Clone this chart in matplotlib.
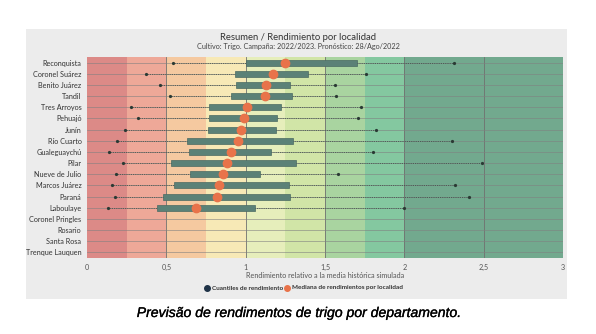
import matplotlib
matplotlib.use('Agg')
import matplotlib.pyplot as plt
import matplotlib.patheffects as pe
from matplotlib.patches import Rectangle

localidades = ['Reconquista', 'Coronel Suárez', 'Benito Juárez', 'Tandil', 'Tres Arroyos',
               'Pehuajó', 'Junín', 'Río Cuarto', 'Gualeguaychú', 'Pilar', 'Nueve de Julio',
               'Marcos Juárez', 'Paraná', 'Laboulaye', 'Coronel Pringles', 'Rosario',
               'Santa Rosa', 'Trenque Lauquen']

# min, q1, median, q3, max (only the first 14 have data)
minimos = [0.54, 0.37, 0.46, 0.525, 0.28, 0.32, 0.24, 0.19, 0.14, 0.23, 0.185, 0.16, 0.175, 0.13]
q1 = [1.00, 0.93, 0.94, 0.905, 0.77, 0.77, 0.76, 0.63, 0.64, 0.53, 0.65, 0.55, 0.48, 0.44]
medianas = [1.25, 1.17, 1.13, 1.12, 1.01, 0.99, 0.97, 0.95, 0.91, 0.88, 0.86, 0.83, 0.82, 0.69]
q3 = [1.70, 1.39, 1.28, 1.29, 1.22, 1.195, 1.19, 1.30, 1.16, 1.315, 1.09, 1.27, 1.28, 1.06]
maximos = [2.31, 1.76, 1.56, 1.57, 1.73, 1.71, 1.82, 2.30, 1.80, 2.49, 1.58, 2.32, 2.41, 2.00]

bandas = [0, 0.25, 0.5, 0.75, 1.0, 1.25, 1.5, 1.75, 2.0, 3.0]
colores_bandas = ['#dc8a87', '#eea898', '#f5c9a0', '#f7e9b6', '#e6eebb',
                  '#d1e5a7', '#a9d4a0', '#84c8a0', '#72a98e']

plt.rcParams['font.family'] = ['Lato', 'DejaVu Sans']

fig = plt.figure(figsize=(5.96, 3.34), dpi=100)
fig.patch.set_facecolor('white')
fig.patches.append(Rectangle((26/596, 1-299/334), 541/596, 270/334, transform=fig.transFigure,
                             facecolor='#ececec', edgecolor='none', zorder=-10))

ax = fig.add_axes([87/596, 1-258/334, 476/596, 201/334])
ax.set_xlim(0, 3)
ax.set_ylim(len(localidades) - 0.5, -0.5)

for i in range(len(colores_bandas)):
    ax.axvspan(bandas[i], bandas[i+1], color=colores_bandas[i], zorder=0, lw=0)

for x in [0.5, 1, 1.5, 2, 2.5]:
    ax.axvline(x, color='#707070', lw=0.6, zorder=1)
for y in range(len(localidades)):
    ax.axhline(y, color='#808080', lw=0.5, alpha=0.8, zorder=1)

for i in range(len(medianas)):
    ax.plot([minimos[i], maximos[i]], [i, i], color='#3a4a44', lw=0.6, ls=(0, (1, 1.2)), zorder=2)
    ax.plot([minimos[i], maximos[i]], [i, i], 'o', color='#2a3a34', ms=1.3, zorder=3)
    ax.barh(i, q3[i] - q1[i], left=q1[i], height=0.55, color='#5b8177',
            edgecolor='#4a6a62', lw=0.5, zorder=4)
    ax.plot(medianas[i], i, 'o', color='#e8734a', ms=6, zorder=5)

ax.set_yticks(range(len(localidades)))
ax.set_yticklabels(localidades, fontsize=5.2, color='#333333')
ax.set_xticks([0, 0.5, 1, 1.5, 2, 2.5, 3])
ax.set_xticklabels(['0', '0,5', '1', '1,5', '2', '2,5', '3'], fontsize=5.2, color='#555555')
ax.tick_params(length=0, pad=4)
for s in ax.spines.values():
    s.set_visible(False)
ax.set_xlabel('Rendimiento relativo a la media histórica simulada', fontsize=5.2,
              color='#555555', labelpad=1)

fig.text(0.5, 1-37/334, 'Resumen / Rendimiento por localidad', ha='center', va='center',
         fontsize=6.8, color='#333333')
fig.text(0.5, 1-47/334, 'Cultivo: Trigo. Campaña: 2022/2023. Pronóstico: 28/Ago/2022',
         ha='center', va='center', fontsize=5.2, color='#444444')

# legend
fig.lines.append(plt.Line2D([207/596], [1-288/334], marker='o', color='#1f3347', ms=4,
                            transform=fig.transFigure))
fig.text(212/596, 1-288/334, 'Cuantiles de rendimiento', va='center', fontsize=4.6,
         fontweight='bold', color='#333333')
fig.lines.append(plt.Line2D([287/596], [1-288/334], marker='o', color='#e8734a', ms=4,
                            transform=fig.transFigure))
fig.text(292/596, 1-288/334, 'Mediana de rendimientos por localidad', va='center', fontsize=4.6,
         fontweight='bold', color='#333333')

fig.text(0.5, 1-313/334, 'Previsão de rendimentos de trigo por departamento.', ha='center',
         va='center', fontsize=10.1, style='italic', color='#000000',
         family='Liberation Sans',
         path_effects=[pe.withStroke(linewidth=0.2, foreground='#000000')])

fig.savefig('out.png', dpi=100)
